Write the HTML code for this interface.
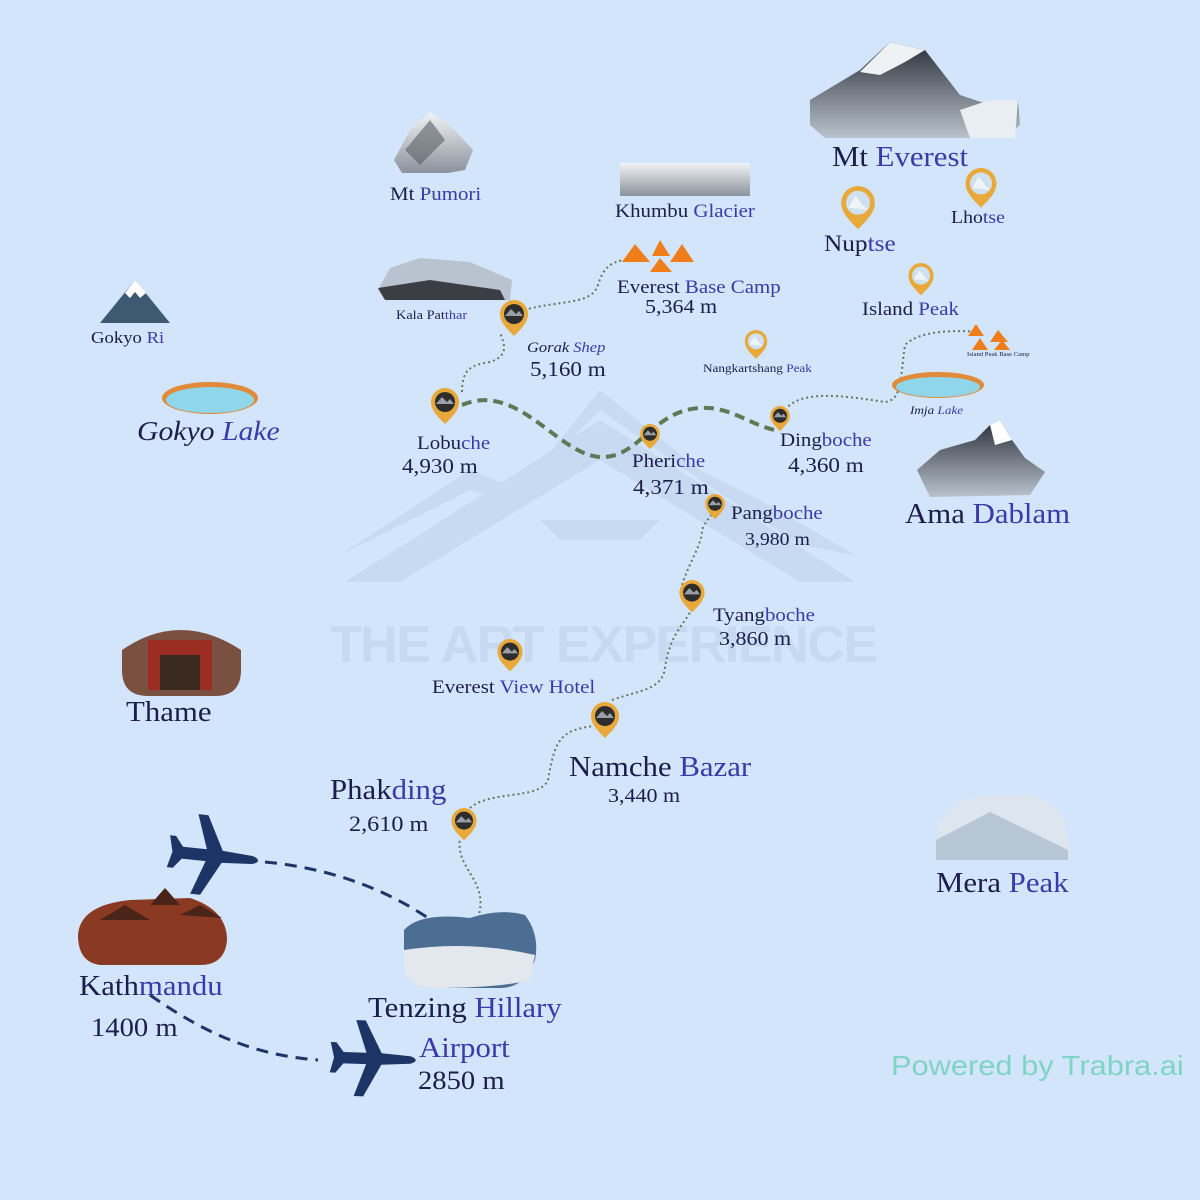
<!DOCTYPE html>
<html><head><meta charset="utf-8">
<style>
html,body{margin:0;padding:0}
body{width:1200px;height:1200px;background:#d3e5fb;position:relative;overflow:hidden;font-family:"Liberation Serif",serif;color:#1b1d4a}
.t{position:absolute;white-space:nowrap;line-height:1;transform:scaleX(1.1);transform-origin:left top}
.b{color:#3a3aa8}
</style></head><body>
<svg width="1200" height="1200" style="position:absolute;left:0;top:0">
<defs>
<linearGradient id="snow" x1="0" y1="0" x2="0" y2="1"><stop offset="0" stop-color="#f2f4f6"/><stop offset="1" stop-color="#8a929c"/></linearGradient>
<linearGradient id="rock" x1="0" y1="0" x2="0" y2="1"><stop offset="0" stop-color="#2a2f38"/><stop offset="1" stop-color="#b9c2cc"/></linearGradient>
<g id="pin"><path d="M0,16 C-8,8 -14,2 -14,-6 A14,14 0 0 1 14,-6 C14,2 8,8 0,16Z" fill="#e8a93a"/><circle cx="0" cy="-6" r="10" fill="#2d2d2d"/><path d="M-9,-4 L-3,-11 L2,-6 L5,-9 L9,-4Z" fill="#9aa0a8"/></g>
<g id="pinw"><path d="M0,16 C-8,8 -14,2 -14,-6 A14,14 0 0 1 14,-6 C14,2 8,8 0,16Z" fill="#e8a93a"/><circle cx="0" cy="-6" r="10" fill="#cfe0f0"/><path d="M-8,-2 L-2,-12 L4,-4 L8,0Z" fill="#eef4f8"/></g>
<path id="plane" d="M0,-4 L30,-6 L48,-40 L58,-40 L46,-6 L70,-6 L78,-16 L84,-16 L80,0 L84,16 L78,16 L70,6 L46,6 L58,40 L48,40 L30,6 L0,4 C-8,2 -8,-2 0,-4Z" fill="#1c3566"/>
</defs>
<g fill="#c6d9f1" opacity="0.9">
<path d="M340,555 L470,470 L520,490 L600,390 L700,470 L760,500 L855,555 L800,545 L700,480 L600,410 L510,500 L470,490Z"/>
<path d="M345,582 L600,420 L855,582 L800,582 L600,460 L400,582Z"/>
<path d="M540,520 L660,520 L640,540 L560,540Z"/>
</g>
<text x="330" y="662" font-family="Liberation Sans,sans-serif" font-weight="bold" font-size="52" fill="#c6d9f1" textLength="548">THE ART EXPERIENCE</text>
<g fill="none" stroke="#5f7a5f" stroke-width="2" stroke-dasharray="2 3">
<path d="M478,918 C490,880 455,870 460,838"/>
<path d="M470,808 C490,790 540,800 548,780 C555,740 560,730 594,726"/>
<path d="M612,700 C640,690 662,690 665,668 C670,630 690,620 692,606"/>
<path d="M682,585 C690,560 702,545 702,530 C706,520 712,515 715,510"/>
<path d="M785,410 C800,390 840,395 885,402 C902,400 900,380 905,345 C920,330 955,330 980,332"/>
<path d="M462,392 C462,370 470,365 490,362 C512,355 502,340 500,332"/>
<path d="M524,310 C560,300 592,305 598,285 C605,262 615,262 632,258"/>
</g>
<path d="M462,405 C520,380 560,460 605,457 C640,455 655,410 700,408 C730,406 750,425 775,430" fill="none" stroke="#5b7a55" stroke-width="4" stroke-dasharray="10 6"/>
<g fill="none" stroke="#1c3566" stroke-width="3" stroke-dasharray="12 8">
<path d="M265,862 C330,868 392,890 442,928"/>
<path d="M150,995 C200,1030 250,1055 318,1060"/>
</g>
<use href="#plane" transform="translate(252,860) rotate(186)"/>
<use href="#plane" transform="translate(410,1060) rotate(182) scale(0.95)"/>
<path d="M810,100 L860,70 L890,42 L925,50 L960,95 L990,105 L1018,100 L1020,125 L1005,138 L825,138 L810,125Z" fill="url(#rock)"/>
<path d="M860,72 L890,42 L925,50 L905,62 L880,75Z" fill="#eef2f5"/>
<path d="M960,110 L990,100 L1018,100 L1015,138 L970,138Z" fill="#e9eef2"/>
<path d="M394,160 L410,130 L430,112 L450,125 L473,150 L465,170 L448,173 L402,173Z" fill="url(#snow)"/>
<path d="M405,150 L430,120 L445,140 L420,165Z" fill="#5b6068" opacity=".6"/>
<rect x="620" y="163" width="130" height="33" fill="url(#snow)"/>
<path d="M378,290 L390,268 L420,258 L470,262 L512,280 L510,300 L385,300Z" fill="#b8c3cf"/>
<path d="M378,288 L430,280 L500,290 L505,300 L385,300Z" fill="#3b3f45"/>
<path d="M100,323 L135,280 L170,323Z" fill="#3e5a72"/>
<path d="M125,293 L135,280 L146,293 L140,298 L135,292 L130,298Z" fill="#fff"/>
<ellipse cx="210" cy="398" rx="48" ry="16" fill="#e08a3a"/>
<ellipse cx="210" cy="400" rx="44" ry="13" fill="#8fd6ea"/>
<ellipse cx="938" cy="385" rx="46" ry="13" fill="#e08a3a"/>
<ellipse cx="938" cy="387" rx="42" ry="10" fill="#8fd6ea"/>
<g fill="#ef7d1a"><path d="M622,262 L635,244 L650,262Z"/><path d="M652,256 L660,240 L670,256Z"/><path d="M670,262 L682,244 L694,262Z"/><path d="M650,272 L660,258 L672,272Z"/>
<path d="M968,336 L976,324 L984,336Z"/><path d="M990,342 L998,330 L1008,342Z"/><path d="M972,350 L980,338 L988,350Z"/><path d="M994,350 L1002,340 L1010,350Z"/></g>
<path d="M917,470 L940,450 L975,440 L990,425 L1000,420 L1012,440 L1025,458 L1045,472 L1030,495 L930,497Z" fill="url(#rock)"/>
<path d="M990,425 L1000,420 L1012,440 L995,445Z" fill="#fff"/>
<path d="M122,650 Q180,610 241,650 L241,670 Q241,696 215,696 L148,696 Q122,696 122,670Z" fill="#7a5040"/>
<rect x="148" y="640" width="64" height="50" fill="#9c2d22"/>
<rect x="160" y="655" width="40" height="35" fill="#3b2a20"/>
<path d="M936,840 Q940,800 990,795 L1030,795 Q1068,805 1068,840 L1068,860 L936,860Z" fill="#dde6ee"/>
<path d="M936,840 L990,812 L1068,850 L1068,860 L936,860Z" fill="#b6c6d4"/>
<path d="M78,935 Q80,905 130,900 L190,898 Q227,910 227,940 Q225,965 200,965 L100,965 Q78,962 78,935Z" fill="#8a3a22"/>
<path d="M100,920 L125,905 L150,920Z M150,905 L165,888 L180,905Z M180,915 L200,905 L222,918Z" fill="#4a2418"/>
<path d="M404,930 Q420,912 470,918 Q500,908 525,915 Q540,935 535,960 Q525,988 500,988 L430,988 Q404,985 404,960Z" fill="#4c6e92"/>
<path d="M404,950 Q470,940 535,955 L530,980 Q500,988 430,988 Q404,985 404,965Z" fill="#e3e8ee"/>
<use href="#pin" transform="translate(514,320)"/>
<use href="#pin" transform="translate(445,408)"/>
<use href="#pin" transform="translate(650,438) scale(.7)"/>
<use href="#pin" transform="translate(780,420) scale(.7)"/>
<use href="#pin" transform="translate(715,508) scale(.7)"/>
<use href="#pin" transform="translate(692,598) scale(.9)"/>
<use href="#pin" transform="translate(510,657) scale(.9)"/>
<use href="#pin" transform="translate(605,722)"/>
<use href="#pin" transform="translate(464,826) scale(.9)"/>
<use href="#pinw" transform="translate(858,210) scale(1.2)"/>
<use href="#pinw" transform="translate(981,190) scale(1.1)"/>
<use href="#pinw" transform="translate(921,281) scale(.9)"/>
<use href="#pinw" transform="translate(756,346) scale(.8)"/>
</svg>

<div class="t" style="left:832px;top:144px;font-size:28px">Mt <span class="b">Everest</span></div>
<div class="t" style="left:390px;top:185px;font-size:19px">Mt <span class="b">Pumori</span></div>
<div class="t" style="left:615px;top:202px;font-size:19px">Khumbu <span class="b">Glacier</span></div>
<div class="t" style="left:824px;top:232px;font-size:23px">Nup<span class="b">tse</span></div>
<div class="t" style="left:951px;top:208px;font-size:18px">Lho<span class="b">tse</span></div>
<div class="t" style="left:617px;top:278px;font-size:19px">Everest <span class="b">Base Camp</span></div>
<div class="t" style="left:645px;top:297px;font-size:20px">5,364 m</div>
<div class="t" style="left:862px;top:300px;font-size:19px">Island <span class="b">Peak</span></div>
<div class="t" style="left:91px;top:329px;font-size:17px">Gokyo <span class="b">Ri</span></div>
<div class="t" style="left:396px;top:308px;font-size:13px">Kala Pat<span class="b">thar</span></div>
<div class="t" style="left:527px;top:341px;font-size:15px;font-style:italic">Gorak <span class="b">Shep</span></div>
<div class="t" style="left:530px;top:359px;font-size:21px">5,160 m</div>
<div class="t" style="left:703px;top:362px;font-size:12px">Nangkartshang <span class="b">Peak</span></div>
<div class="t" style="left:967px;top:352px;font-size:6px">Island Peak Base Camp</div>
<div class="t" style="left:910px;top:404px;font-size:12px;font-style:italic">Imja <span class="b">Lake</span></div>
<div class="t" style="left:137px;top:418px;font-size:27px;font-style:italic">Gokyo <span class="b">Lake</span></div>
<div class="t" style="left:417px;top:434px;font-size:19px">Lobu<span class="b">che</span></div>
<div class="t" style="left:402px;top:456px;font-size:21px">4,930 m</div>
<div class="t" style="left:780px;top:431px;font-size:19px">Ding<span class="b">boche</span></div>
<div class="t" style="left:788px;top:455px;font-size:21px">4,360 m</div>
<div class="t" style="left:632px;top:452px;font-size:19px">Pheri<span class="b">che</span></div>
<div class="t" style="left:633px;top:477px;font-size:21px">4,371 m</div>
<div class="t" style="left:905px;top:501px;font-size:28px">Ama <span class="b">Dablam</span></div>
<div class="t" style="left:731px;top:504px;font-size:19px">Pang<span class="b">boche</span></div>
<div class="t" style="left:745px;top:530px;font-size:18px">3,980 m</div>
<div class="t" style="left:713px;top:606px;font-size:19px">Tyang<span class="b">boche</span></div>
<div class="t" style="left:719px;top:629px;font-size:20px">3,860 m</div>
<div class="t" style="left:432px;top:678px;font-size:19px">Everest <span class="b">View Hotel</span></div>
<div class="t" style="left:126px;top:699px;font-size:28px">Thame</div>
<div class="t" style="left:569px;top:754px;font-size:28px">Namche <span class="b">Bazar</span></div>
<div class="t" style="left:608px;top:786px;font-size:20px">3,440 m</div>
<div class="t" style="left:330px;top:777px;font-size:28px">Phak<span class="b">ding</span></div>
<div class="t" style="left:349px;top:813px;font-size:22px">2,610 m</div>
<div class="t" style="left:936px;top:870px;font-size:28px">Mera <span class="b">Peak</span></div>
<div class="t" style="left:79px;top:973px;font-size:28px">Kath<span class="b">mandu</span></div>
<div class="t" style="left:91px;top:1015px;font-size:26px">1400 m</div>
<div class="t" style="left:368px;top:995px;font-size:28px">Tenzing <span class="b">Hillary</span></div>
<div class="t" style="left:419px;top:1035px;font-size:28px"><span class="b">Airport</span></div>
<div class="t" style="left:418px;top:1068px;font-size:26px">2850 m</div>
<div class="t" style="left:891px;top:1052px;font-size:28px;font-family:'Liberation Sans',sans-serif;color:#7fd4c6">Powered by Trabra.ai</div>
</body></html>
